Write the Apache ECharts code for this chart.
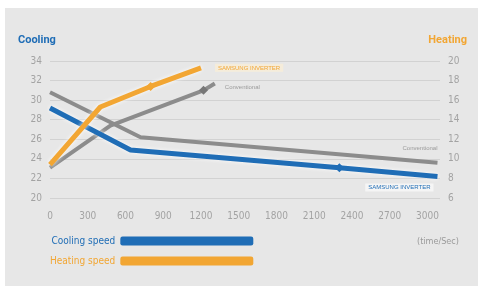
<!DOCTYPE html>
<html>
<head>
<meta charset="utf-8">
<script src="https://cdn.jsdelivr.net/npm/echarts@6/dist/echarts.min.js"></script>
<style>
  html, body { margin: 0; padding: 0; background: #fff; }
  #chart { width: 482px; height: 291px; }
</style>
</head>
<body>
<div id="chart"></div>
<script>
  // 数据 (time/Sec, 温度)
  var samsungCooling = [[0, 29.2], [640, 24.9], [2300, 23.1], [3080, 22.2]];
  var convCooling = [[0, 30.8], [720, 26.2], [3080, 23.6]];
  var samsungHeating = [[0, 9.4], [400, 15.3], [800, 17.4], [1200, 19.3]];
  var convHeating = [[0, 9.1], [480, 13.4], [1220, 17.0], [1310, 17.7]];
  var markCooling = [2300];   // 标记点
  var markHeating = [800];
  var markConvHeating = [1220];
  var xTicks = [0, 300, 600, 900, 1200, 1500, 1800, 2100, 2400, 2700, 3000];

  var blue = '#1f6db6', orange = '#f2a633', gray = '#8c8c8c';
  var labelFont = 'DejaVu Sans Condensed';

  function withMarks(data, marks, color) {
    return data.map(function (d) {
      if (marks.indexOf(d[0]) >= 0) {
        return { value: d, symbol: 'diamond', symbolSize: 9, itemStyle: { color: color } };
      }
      return { value: d, symbol: 'none' };
    });
  }

  var chart = echarts.init(document.getElementById('chart'));
  chart.setOption({
    backgroundColor: '#fff',
    animation: false,
    graphic: [
      { type: 'rect', z: -10, shape: { x: 5, y: 8, width: 473, height: 278 }, style: { fill: '#e7e7e7' } }
    ],
    title: [
      { text: 'Cooling', left: 13, top: 30, textStyle: { color: blue, fontSize: 11, fontWeight: 'bold', fontFamily: 'Roboto' } },
      { text: 'Heating', right: 10, top: 30, textStyle: { color: orange, fontSize: 11, fontWeight: 'bold', fontFamily: 'Roboto' } },
      { text: '(time/Sec)', left: 412, top: 232, textStyle: { color: '#9a9a9a', fontSize: 9, fontWeight: 'normal', fontFamily: labelFont } }
    ],
    legend: {
      orient: 'vertical',
      left: 45,
      top: 231,
      align: 'right',
      icon: 'roundRect',
      itemWidth: 133,
      itemHeight: 9,
      itemGap: 10,
      selectedMode: false,
      textStyle: { fontSize: 10, fontFamily: labelFont },
      data: [
        { name: 'Cooling speed', textStyle: { color: blue } },
        { name: 'Heating speed', textStyle: { color: orange } }
      ]
    },
    grid: { left: 50, right: 42, top: 61, bottom: 93 },
    xAxis: {
      type: 'value',
      min: 0,
      max: 3100,
      interval: 300,
      axisLine: { show: false },
      axisTick: { show: false },
      splitLine: { show: false },
      axisLabel: {
        margin: 13,
        color: '#a3a3a3',
        fontSize: 10,
        fontFamily: labelFont,
        formatter: function (v) { return xTicks.indexOf(v) >= 0 ? v : ''; }
      }
    },
    yAxis: [
      {
        type: 'value', min: 20, max: 34, interval: 2,
        axisLine: { show: false }, axisTick: { show: false },
        axisLabel: { margin: 8, color: '#a3a3a3', fontSize: 10, fontFamily: labelFont },
        splitLine: { show: true, lineStyle: { color: '#d2d2d2', width: 1 } }
      },
      {
        type: 'value', min: 6, max: 20, interval: 2,
        axisLine: { show: false }, axisTick: { show: false },
        axisLabel: { margin: 8, color: '#a3a3a3', fontSize: 10, fontFamily: labelFont },
        splitLine: { show: false }
      }
    ],
    series: [
      {
        name: 'Conventional cooling', type: 'line', yAxisIndex: 0,
        data: convCooling, symbol: 'none', z: 2,
        lineStyle: { color: gray, width: 4 }, itemStyle: { color: gray },
        endLabel: { show: true, formatter: 'Conventional', color: '#9a9a9a', fontSize: 6, align: 'right', offset: [-8, -14] }
      },
      {
        name: 'Cooling speed', type: 'line', yAxisIndex: 0,
        data: withMarks(samsungCooling, markCooling, blue), z: 3,
        lineStyle: { color: blue, width: 5, shadowColor: 'rgba(255,255,255,0.9)', shadowBlur: 4 }, itemStyle: { color: blue },
        endLabel: { show: true, formatter: 'SAMSUNG INVERTER', color: blue, fontSize: 6, align: 'right', offset: [-12, 11],
          backgroundColor: 'rgba(255,255,255,0.6)', padding: [1, 3] }
      },
      {
        name: 'Conventional heating', type: 'line', yAxisIndex: 1,
        data: withMarks(convHeating, markConvHeating, '#777'), z: 2,
        lineStyle: { color: gray, width: 4 }, itemStyle: { color: gray },
        endLabel: { show: true, formatter: 'Conventional', color: '#9a9a9a', fontSize: 6, offset: [2, 4] }
      },
      {
        name: 'Heating speed', type: 'line', yAxisIndex: 1,
        data: withMarks(samsungHeating, markHeating, orange), z: 3,
        lineStyle: { color: orange, width: 5, shadowColor: 'rgba(255,255,255,0.9)', shadowBlur: 4 }, itemStyle: { color: orange },
        endLabel: { show: true, formatter: 'SAMSUNG INVERTER', color: orange, fontSize: 6, offset: [6, 0],
          backgroundColor: 'rgba(255,240,210,0.6)', padding: [1, 3] }
      }
    ]
  });
</script>
</body>
</html>
